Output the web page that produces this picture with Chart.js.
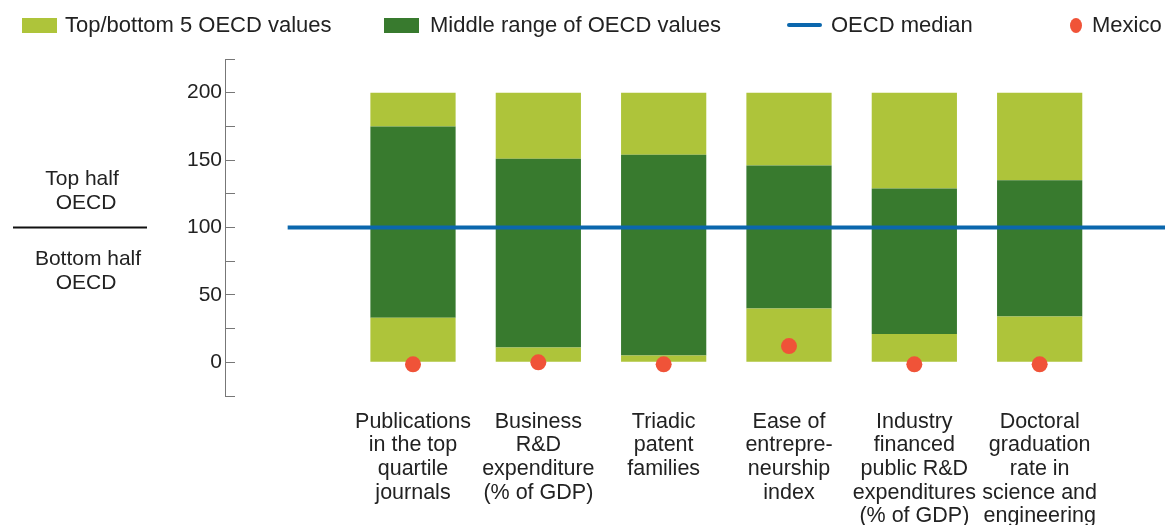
<!DOCTYPE html>
<html lang="en">
  <head>
    <meta charset="utf-8" />
    <title>Mexico vs OECD</title>
    <script src="https://cdn.jsdelivr.net/npm/chart.js"></script>
    <style>
      body { margin: 0; background: #fff; }
      .wrap { position: relative; width: 1169px; height: 525px; font-family: "Liberation Sans", Arial, sans-serif; color: #222; }
      .legend .item { position: absolute; top: 14px; display: flex; align-items: center; font-size: 22px; line-height: 22px; white-space: nowrap; }
      .swatch { display: inline-block; width: 35px; height: 15px; margin-right: 8px; }
      .swatch.line { height: 4px; margin-right: 9px; border-radius: 2px; }
      .swatch.dot { width: 12px; height: 15px; border-radius: 50%; margin-right: 10px; }
      canvas { position: absolute; left: 0; top: 0; }
    </style>
  </head>
  <body>
    <div class="wrap">
      <canvas id="chart" width="1169" height="525"></canvas>
      <div class="legend">
        <span class="item" style="left:22px"><i class="swatch" style="background:#AEC43A"></i>Top/bottom 5 OECD values</span>
        <span class="item" style="left:384px"><i class="swatch" style="background:#387A2E; margin-right:11px"></i>Middle range of OECD values</span>
        <span class="item" style="left:787px"><i class="swatch line" style="background:#0B67AD"></i>OECD median</span>
        <span class="item" style="left:1070px"><i class="swatch dot" style="background:#F05338"></i>Mexico</span>
      </div>
    </div>

<script>
  // indicators, normalised so the OECD minimum is 0 and the maximum is 200
  const CATEGORIES = [
    ['Publications', 'in the top', 'quartile', 'journals'],
    ['Business', 'R&D', 'expenditure', '(% of GDP)'],
    ['Triadic', 'patent', 'families'],
    ['Ease of', 'entrepre-', 'neurship', 'index'],
    ['Industry', 'financed', 'public R&D', 'expenditures', '(% of GDP)'],
    ['Doctoral', 'graduation', 'rate in', 'science and', 'engineering']
  ];
  const OECD_MIN = 0;
  const OECD_MAX = 200;
  const OECD_MEDIAN = 100;
  const BOTTOM5_TOP = [33, 11, 5, 40, 21, 34];       // upper edge of the bottom 5 values
  const TOP5_BOTTOM = [175, 151, 154, 146, 129, 135]; // lower edge of the top 5 values
  const MEXICO = [-1.5, 0, -1.5, 12, -1.5, -1.5];
  const Y_TICKS_LABELLED = [0, 50, 100, 150, 200];

  const LIGHT = '#AEC43A';
  const DARK = '#387A2E';
  const BLUE = '#0B67AD';
  const RED = '#F05338';
  const FONT = '"Liberation Sans", Arial, sans-serif';

  const X_MIN = -1.5, X_MAX = 6;

  // the "Top half / Bottom half" note on the left, split at the median
  const halvesNote = {
    id: 'halvesNote',
    afterDraw(chart) {
      const ctx = chart.ctx;
      const y = chart.scales.y.getPixelForValue(OECD_MEDIAN);
      ctx.save();
      ctx.strokeStyle = '#111';
      ctx.lineWidth = 2;
      ctx.beginPath();
      ctx.moveTo(13, y);
      ctx.lineTo(147, y);
      ctx.stroke();
      ctx.fillStyle = '#222';
      ctx.font = '21px ' + FONT;
      ctx.textAlign = 'center';
      ctx.textBaseline = 'alphabetic';
      ctx.fillText('Top half', 82, y - 43);
      ctx.fillText('OECD', 86, y - 19);
      ctx.fillText('Bottom half', 88, y + 37);
      ctx.fillText('OECD', 86, y + 61);
      ctx.restore();
    }
  };

  const idx = CATEGORIES.map((_, i) => i);

  new Chart(document.getElementById('chart'), {
    data: {
      datasets: [
        {
          type: 'scatter',
          label: 'Mexico',
          data: idx.map(i => ({ x: i, y: MEXICO[i] })),
          backgroundColor: RED,
          borderWidth: 0,
          pointRadius: 8,
          order: 0
        },
        {
          type: 'line',
          label: 'OECD median',
          data: [{ x: -1, y: OECD_MEDIAN }, { x: X_MAX, y: OECD_MEDIAN }],
          borderColor: BLUE,
          borderWidth: 4,
          pointRadius: 0,
          order: 1
        },
        {
          type: 'bar',
          label: 'Top/bottom 5 OECD values',
          data: idx.map(i => ({ x: i, y: [OECD_MIN, BOTTOM5_TOP[i]] })),
          backgroundColor: LIGHT,
          grouped: false,
          order: 2
        },
        {
          type: 'bar',
          label: 'Middle range of OECD values',
          data: idx.map(i => ({ x: i, y: [BOTTOM5_TOP[i], TOP5_BOTTOM[i]] })),
          backgroundColor: DARK,
          grouped: false,
          order: 2
        },
        {
          type: 'bar',
          label: 'Top/bottom 5 OECD values',
          data: idx.map(i => ({ x: i, y: [TOP5_BOTTOM[i], OECD_MAX] })),
          backgroundColor: LIGHT,
          grouped: false,
          order: 2
        }
      ]
    },
    options: {
      responsive: false,
      animation: false,
      events: [],
      layout: {
        autoPadding: false,
        padding: { left: 165, right: 4, top: 59, bottom: 0 }
      },
      datasets: {
        bar: { categoryPercentage: 1, barPercentage: 0.68 }
      },
      plugins: {
        legend: { display: false },
        tooltip: { enabled: false }
      },
      scales: {
        x: {
          type: 'linear',
          min: X_MIN,
          max: X_MAX,
          offset: false, // bar charts switch this on by default
          grid: { display: false, offset: false },
          border: { display: false },
          afterBuildTicks: axis => { axis.ticks = idx.map(i => ({ value: i })); },
          afterFit: axis => { axis.height = 129; },
          ticks: {
            autoSkip: false,
            maxRotation: 0,
            padding: 6,
            color: '#222',
            font: { family: FONT, size: 21.5, lineHeight: 1.1 },
            callback: value => CATEGORIES[value]
          }
        },
        y: {
          min: -25,
          max: 225,
          afterFit: axis => { axis.width = 60; },
          grid: {
            drawOnChartArea: false,
            drawTicks: true,
            tickLength: -10,
            color: '#777'
          },
          border: { display: true, color: '#777', width: 1 },
          ticks: {
            stepSize: 25,
            padding: 13,
            color: '#222',
            font: { family: FONT, size: 21 },
            callback: value => Y_TICKS_LABELLED.includes(value) ? value : ''
          }
        }
      }
    },
    plugins: [halvesNote]
  });
</script>
  </body>
</html>
